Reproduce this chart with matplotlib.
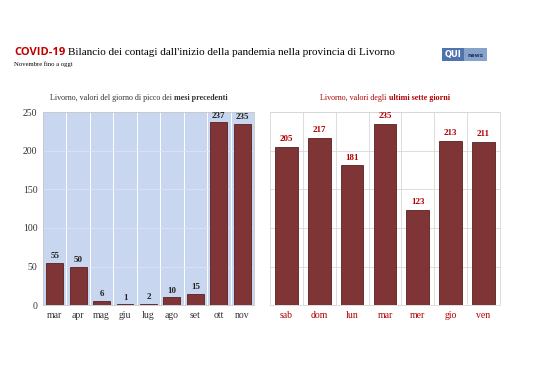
import matplotlib
matplotlib.use('Agg')
import matplotlib.pyplot as plt
from matplotlib.patches import Rectangle
import numpy as np

# data
mesi = ['mar', 'apr', 'mag', 'giu', 'lug', 'ago', 'set', 'ott', 'nov']
picco = [55, 50, 6, 1, 2, 10, 15, 237, 235]
giorni = ['sab', 'dom', 'lun', 'mar', 'mer', 'gio', 'ven']
ultimi = [205, 217, 181, 235, 123, 213, 211]

bar_col = '#7f3535'
edge_col = '#5a2020'
red_txt = '#b00000'
serif = 'Liberation Serif'

plt.rcParams['font.family'] = serif

fig = plt.figure(figsize=(5.38, 3.8), dpi=100)
fig.patch.set_facecolor('white')
renderer = fig.canvas.get_renderer()
W = fig.bbox.width


def mixed_text(xc, y, parts, size, color):
    # parts: list of (string, weight); centred on xc (figure fraction)
    texts = []
    for s, w in parts:
        texts.append(fig.text(0, y, s, fontsize=size, fontweight=w, color=color,
                              va='baseline'))
    widths = [tx.get_window_extent(renderer).width / W for tx in texts]
    x = xc - sum(widths) / 2
    for tx, w in zip(texts, widths):
        tx.set_x(x)
        x += w


# title
t = fig.text(0.026, 0.855, 'COVID-19', fontfamily='Open Sans', fontweight='bold',
             color='#c00000', fontsize=8, va='baseline')
bb = t.get_window_extent(renderer)
fig.text(bb.x1 / W + 0.006, 0.855,
         "Bilancio dei contagi dall'inizio della pandemia nella provincia di Livorno",
         fontsize=8.0, va='baseline')
fig.text(0.026, 0.827, 'Novembre fino a oggi', fontsize=4.8, va='baseline')

# logo
fig.patches.append(Rectangle((0.822, 0.839), 0.040, 0.034, transform=fig.transFigure,
                             facecolor='#4f74ad', edgecolor='none'))
fig.patches.append(Rectangle((0.862, 0.839), 0.044, 0.034, transform=fig.transFigure,
                             facecolor='#86a3cc', edgecolor='none'))
fig.text(0.842, 0.856, 'QUI', fontfamily='DejaVu Sans', fontweight='bold', color='white',
         fontsize=6, ha='center', va='center')
fig.text(0.884, 0.853, 'news', fontfamily='DejaVu Sans', fontweight='bold', color='#1f3560',
         fontsize=4, ha='center', va='center')

# left panel
ax1 = fig.add_axes([0.080, 0.197, 0.392, 0.508])
x1 = np.arange(len(mesi))
ax1.set_facecolor('#c8d6ef')
ax1.bar(x1, picco, width=0.72, color=bar_col, edgecolor=edge_col, linewidth=0.6, zorder=3)
ax1.set_xlim(-0.5, len(mesi) - 0.5)
ax1.set_ylim(0, 250)
ax1.set_yticks([0, 50, 100, 150, 200, 250])
ax1.set_xticks(x1)
ax1.set_xticklabels(mesi)
for xv in np.arange(0.5, len(mesi) - 0.5):
    ax1.axvline(xv, color='white', linewidth=0.7, zorder=1)
for yv in [50, 100, 150, 200]:
    ax1.axhline(yv, color='#dde6f5', linewidth=0.5, zorder=1)
for xv, v in zip(x1, picco):
    ax1.text(xv, v + 3, str(v), ha='center', va='bottom', fontsize=6.5,
             fontweight='bold', color='#222222', zorder=4)
ax1.tick_params(axis='both', length=0, labelsize=7, colors='#333333', pad=4)
for s in ax1.spines.values():
    s.set_color('#c8c8c8')
    s.set_linewidth(0.6)
mixed_text(0.258, 0.738, [('Livorno, valori del giorno di picco dei ', 'normal'),
                          ('mesi precedenti', 'bold')], 5.8, '#333333')

# right panel
ax2 = fig.add_axes([0.502, 0.197, 0.427, 0.508])
x2 = np.arange(len(giorni))
ax2.bar(x2, ultimi, width=0.69, color=bar_col, edgecolor=edge_col, linewidth=0.6, zorder=3)
ax2.set_xlim(-0.5, len(giorni) - 0.5)
ax2.set_ylim(0, 250)
ax2.set_yticks([0, 50, 100, 150, 200, 250])
ax2.set_yticklabels([])
ax2.set_xticks(x2)
ax2.set_xticklabels(giorni)
for xv in np.arange(0.5, len(giorni) - 0.5):
    ax2.axvline(xv, color='#d8d8d8', linewidth=0.6, zorder=1)
ax2.yaxis.grid(True, color='#d8d8d8', linewidth=0.6, zorder=1)
for xv, v in zip(x2, ultimi):
    ax2.text(xv, v + 5, str(v), ha='center', va='bottom', fontsize=6.5,
             fontweight='bold', color=red_txt, zorder=4)
ax2.tick_params(axis='both', length=0, labelsize=7, colors=red_txt, pad=4)
for s in ax2.spines.values():
    s.set_color('#d8d8d8')
    s.set_linewidth(0.6)
mixed_text(0.7155, 0.738, [('Livorno, valori degli ', 'normal'),
                           ('ultimi sette giorni', 'bold')], 5.8, red_txt)

fig.savefig('out.png', dpi=100)
